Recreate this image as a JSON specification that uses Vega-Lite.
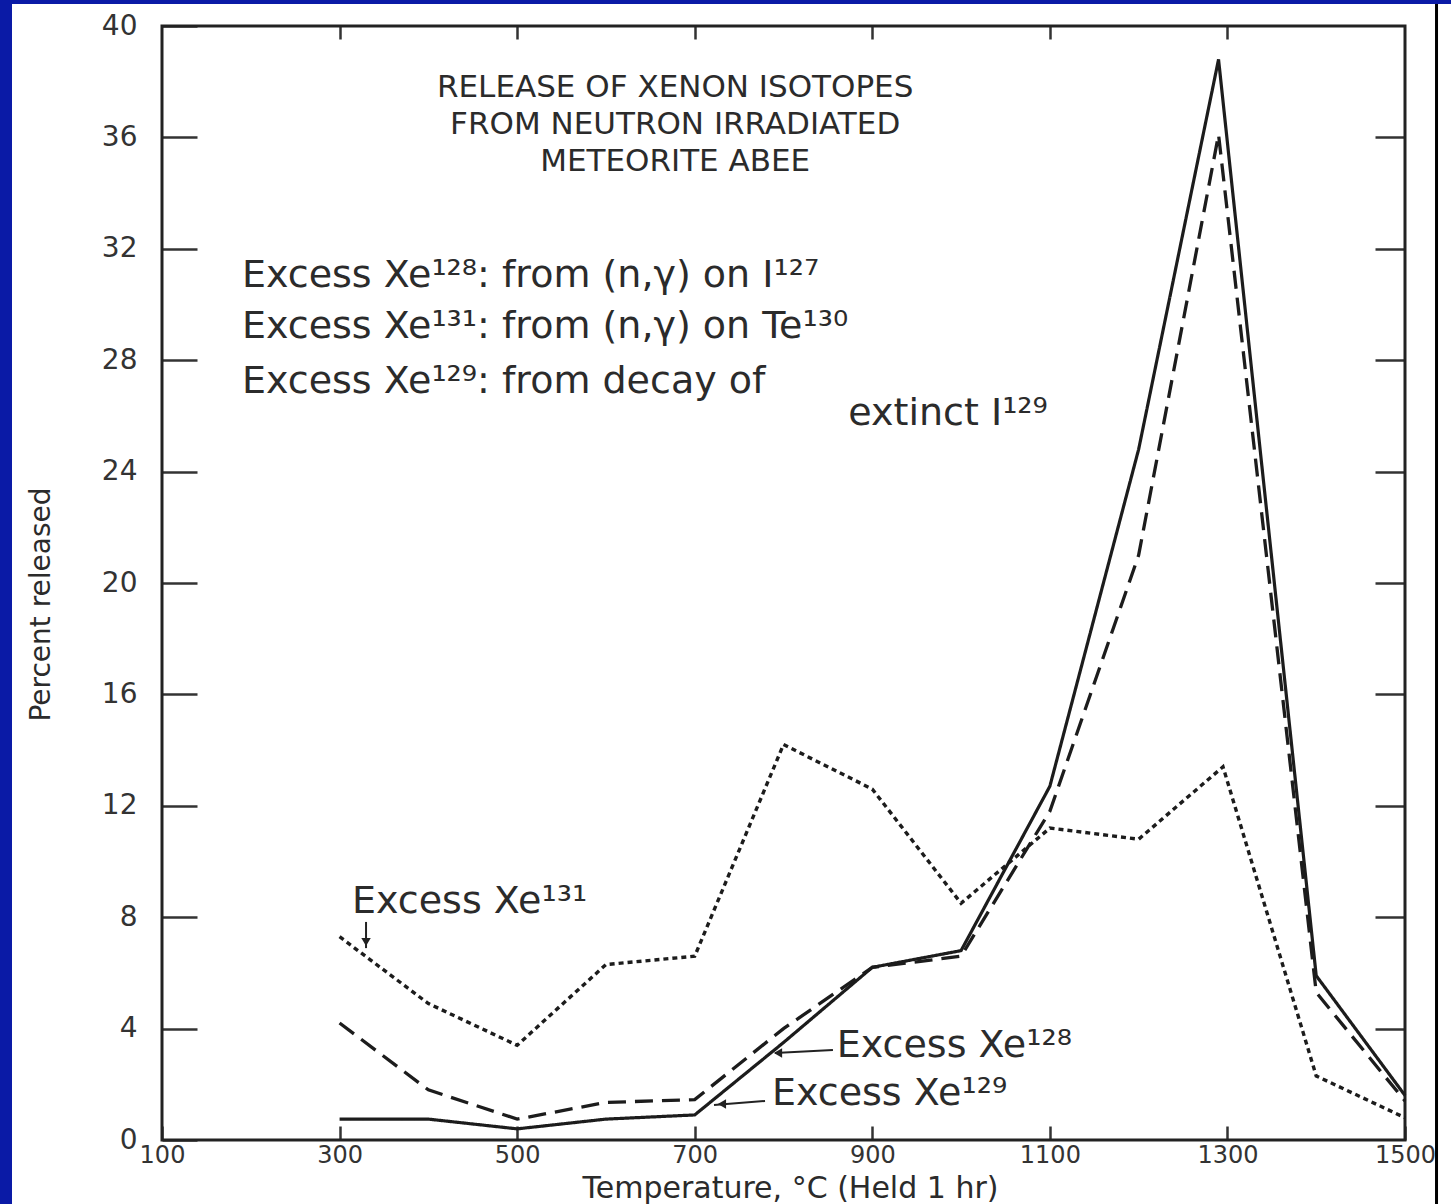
{
  "$schema": "https://vega.github.io/schema/vega-lite/v6.json",
  "width": 1439,
  "height": 1200,
  "autosize": {"type": "none"},
  "padding": {"left": 12, "top": 4, "right": 0, "bottom": 0},
  "background": "#0a1aa6",
  "config": {
    "view": {"fill": "white", "stroke": null},
    "font": "DejaVu Sans",
    "text": {"font": "DejaVu Sans", "color": "#2b2b2b"}
  },
  "datasets": {
    "release": [
      {"t": 300, "pct": 0.75, "series": "Xe128"},
      {"t": 400, "pct": 0.75, "series": "Xe128"},
      {"t": 500, "pct": 0.4, "series": "Xe128"},
      {"t": 600, "pct": 0.75, "series": "Xe128"},
      {"t": 700, "pct": 0.9, "series": "Xe128"},
      {"t": 800, "pct": 3.5, "series": "Xe128"},
      {"t": 900, "pct": 6.2, "series": "Xe128"},
      {"t": 1000, "pct": 6.8, "series": "Xe128"},
      {"t": 1100, "pct": 12.7, "series": "Xe128"},
      {"t": 1200, "pct": 24.8, "series": "Xe128"},
      {"t": 1290, "pct": 38.8, "series": "Xe128"},
      {"t": 1400, "pct": 5.9, "series": "Xe128"},
      {"t": 1500, "pct": 1.6, "series": "Xe128"},
      {"t": 300, "pct": 4.2, "series": "Xe129"},
      {"t": 400, "pct": 1.8, "series": "Xe129"},
      {"t": 500, "pct": 0.75, "series": "Xe129"},
      {"t": 600, "pct": 1.35, "series": "Xe129"},
      {"t": 700, "pct": 1.45, "series": "Xe129"},
      {"t": 800, "pct": 4.0, "series": "Xe129"},
      {"t": 900, "pct": 6.2, "series": "Xe129"},
      {"t": 1000, "pct": 6.6, "series": "Xe129"},
      {"t": 1100, "pct": 11.8, "series": "Xe129"},
      {"t": 1200, "pct": 21.0, "series": "Xe129"},
      {"t": 1290, "pct": 36.1, "series": "Xe129"},
      {"t": 1400, "pct": 5.3, "series": "Xe129"},
      {"t": 1500, "pct": 1.4, "series": "Xe129"},
      {"t": 300, "pct": 7.3, "series": "Xe131"},
      {"t": 400, "pct": 4.9, "series": "Xe131"},
      {"t": 500, "pct": 3.4, "series": "Xe131"},
      {"t": 600, "pct": 6.3, "series": "Xe131"},
      {"t": 700, "pct": 6.6, "series": "Xe131"},
      {"t": 800, "pct": 14.2, "series": "Xe131"},
      {"t": 900, "pct": 12.6, "series": "Xe131"},
      {"t": 1000, "pct": 8.5, "series": "Xe131"},
      {"t": 1100, "pct": 11.2, "series": "Xe131"},
      {"t": 1200, "pct": 10.8, "series": "Xe131"},
      {"t": 1295, "pct": 13.4, "series": "Xe131"},
      {"t": 1400, "pct": 2.3, "series": "Xe131"},
      {"t": 1500, "pct": 0.8, "series": "Xe131"}
    ],
    "heading": [
      {"t": 678, "pct": 37.45, "text": "RELEASE OF XENON ISOTOPES"},
      {"t": 678, "pct": 36.12, "text": "FROM NEUTRON IRRADIATED"},
      {"t": 678, "pct": 34.79, "text": "METEORITE ABEE"}
    ],
    "key": [
      {"t": 190, "pct": 30.63, "text": "Excess Xe¹²⁸: from (n,γ) on I¹²⁷"},
      {"t": 190, "pct": 28.8, "text": "Excess Xe¹³¹: from (n,γ) on Te¹³⁰"},
      {"t": 190, "pct": 26.82, "text": "Excess Xe¹²⁹: from decay of"},
      {"t": 873, "pct": 25.67, "text": "extinct I¹²⁹"}
    ],
    "tags": [
      {"t": 314, "pct": 8.15, "text": "Excess Xe¹³¹"},
      {"t": 860, "pct": 2.98, "text": "Excess Xe¹²⁸"},
      {"t": 787, "pct": 1.26, "text": "Excess Xe¹²⁹"}
    ],
    "pointers": [
      {"t": 855.7, "pct": 3.23, "t2": 790.4, "pct2": 3.12},
      {"t": 779.2, "pct": 1.4, "t2": 721.7, "pct2": 1.26},
      {"t": 329.8, "pct": 7.83, "t2": 329.8, "pct2": 6.89}
    ],
    "heads": [
      {"t": 793.8, "pct": 3.12, "dir": "left"},
      {"t": 730.7, "pct": 1.29, "dir": "left"},
      {"t": 329.8, "pct": 7.11, "dir": "down"}
    ]
  },
  "layer": [
    {
      "data": {"values": [{}]},
      "mark": {"type": "rect", "fillOpacity": 0, "stroke": "#222222", "strokeWidth": 3},
      "encoding": {
        "x": {
          "datum": 100, "type": "quantitative",
          "scale": {"domain": [-68.95, 1551.81], "nice": false, "zero": false},
          "axis": {
            "orient": "bottom", "offset": -64, "values": [100, 300, 500, 700, 900, 1100, 1300, 1500],
            "format": "d", "domain": false, "grid": false,
            "tickSize": -14, "tickWidth": 2.5, "tickColor": "#333333",
            "labelPadding": 17, "labelFont": "DejaVu Sans", "labelFontSize": 24, "labelColor": "#333333",
            "title": "Temperature, °C (Held 1 hr)", "titleFont": "DejaVu Sans", "titleFontSize": 30,
            "titleFontWeight": "normal", "titleColor": "#2b2b2b",
            "titleX": 778, "titleY": 57, "titleBaseline": "alphabetic", "titleAlign": "center"
          }
        },
        "x2": {"datum": 1500},
        "y": {
          "datum": 0, "type": "quantitative",
          "scale": {"domain": [-2.298, 40.79], "nice": false, "zero": false},
          "axis": {
            "orient": "left", "offset": -150, "values": [0, 4, 8, 12, 16, 20, 24, 28, 32, 36, 40],
            "format": "d", "domain": false, "grid": false,
            "tickSize": -35, "tickWidth": 2.5, "tickColor": "#333333",
            "labelPadding": 60, "labelFont": "DejaVu Sans", "labelFontSize": 28, "labelColor": "#333333",
            "title": "Percent released", "titleFont": "DejaVu Sans", "titleFontSize": 28,
            "titleFontWeight": "normal", "titleColor": "#2b2b2b", "titlePadding": 46
          }
        },
        "y2": {"datum": 40}
      }
    },
    {
      "data": {"name": "release"},
      "mark": {"type": "line", "color": "#1c1c1c"},
      "encoding": {
        "x": {
          "field": "t", "type": "quantitative",
          "scale": {"domain": [-68.95, 1551.81], "nice": false, "zero": false},
          "axis": {
            "orient": "top", "offset": -22, "values": [300, 500, 700, 900, 1100, 1300],
            "labels": false, "domain": false, "grid": false, "title": null,
            "tickSize": -13, "tickWidth": 2.5, "tickColor": "#333333"
          }
        },
        "y": {
          "field": "pct", "type": "quantitative",
          "scale": {"domain": [-2.298, 40.79], "nice": false, "zero": false},
          "axis": {
            "orient": "right", "offset": -46, "values": [4, 8, 12, 16, 20, 24, 28, 32, 36],
            "labels": false, "domain": false, "grid": false, "title": null,
            "tickSize": -30, "tickWidth": 2.5, "tickColor": "#333333"
          }
        },
        "detail": {"field": "series"},
        "strokeDash": {
          "field": "series", "type": "nominal",
          "scale": {"domain": ["Xe128", "Xe129", "Xe131"], "range": [[1, 0], [18, 9], [5, 4]]},
          "legend": null
        },
        "strokeWidth": {
          "field": "series", "type": "nominal",
          "scale": {"domain": ["Xe128", "Xe129", "Xe131"], "range": [3.2, 3.4, 3.6]},
          "legend": null
        }
      }
    },
    {
      "data": {"values": [{}]},
      "mark": {"type": "rule", "color": "#000000", "strokeWidth": 3},
      "encoding": {
        "x": {"datum": 1535.5, "type": "quantitative", "scale": {"domain": [-68.95, 1551.81], "nice": false, "zero": false}, "axis": null}
      }
    },
    {
      "data": {"name": "heading"},
      "mark": {"type": "text", "align": "center", "baseline": "alphabetic", "fontSize": 31},
      "encoding": {
        "x": {"field": "t", "type": "quantitative", "scale": {"domain": [-68.95, 1551.81], "nice": false, "zero": false}, "axis": null},
        "y": {"field": "pct", "type": "quantitative", "scale": {"domain": [-2.298, 40.79], "nice": false, "zero": false}, "axis": null},
        "text": {"field": "text"}
      }
    },
    {
      "data": {"name": "key"},
      "mark": {"type": "text", "align": "left", "baseline": "alphabetic", "fontSize": 38},
      "encoding": {
        "x": {"field": "t", "type": "quantitative", "scale": {"domain": [-68.95, 1551.81], "nice": false, "zero": false}, "axis": null},
        "y": {"field": "pct", "type": "quantitative", "scale": {"domain": [-2.298, 40.79], "nice": false, "zero": false}, "axis": null},
        "text": {"field": "text"}
      }
    },
    {
      "data": {"name": "tags"},
      "mark": {"type": "text", "align": "left", "baseline": "alphabetic", "fontSize": 38},
      "encoding": {
        "x": {"field": "t", "type": "quantitative", "scale": {"domain": [-68.95, 1551.81], "nice": false, "zero": false}, "axis": null},
        "y": {"field": "pct", "type": "quantitative", "scale": {"domain": [-2.298, 40.79], "nice": false, "zero": false}, "axis": null},
        "text": {"field": "text"}
      }
    },
    {
      "data": {"name": "pointers"},
      "mark": {"type": "rule", "color": "#222222", "strokeWidth": 2},
      "encoding": {
        "x": {"field": "t", "type": "quantitative", "scale": {"domain": [-68.95, 1551.81], "nice": false, "zero": false}, "axis": null},
        "y": {"field": "pct", "type": "quantitative", "scale": {"domain": [-2.298, 40.79], "nice": false, "zero": false}, "axis": null},
        "x2": {"field": "t2"},
        "y2": {"field": "pct2"}
      }
    },
    {
      "data": {"name": "heads"},
      "mark": {"type": "point", "filled": true, "color": "#222222", "size": 90, "opacity": 1},
      "encoding": {
        "x": {"field": "t", "type": "quantitative", "scale": {"domain": [-68.95, 1551.81], "nice": false, "zero": false}, "axis": null},
        "y": {"field": "pct", "type": "quantitative", "scale": {"domain": [-2.298, 40.79], "nice": false, "zero": false}, "axis": null},
        "shape": {
          "field": "dir", "type": "nominal",
          "scale": {"domain": ["left", "down"], "range": ["triangle-left", "triangle-down"]},
          "legend": null
        }
      }
    }
  ],
  "resolve": {"axis": {"x": "independent", "y": "independent"}}
}
